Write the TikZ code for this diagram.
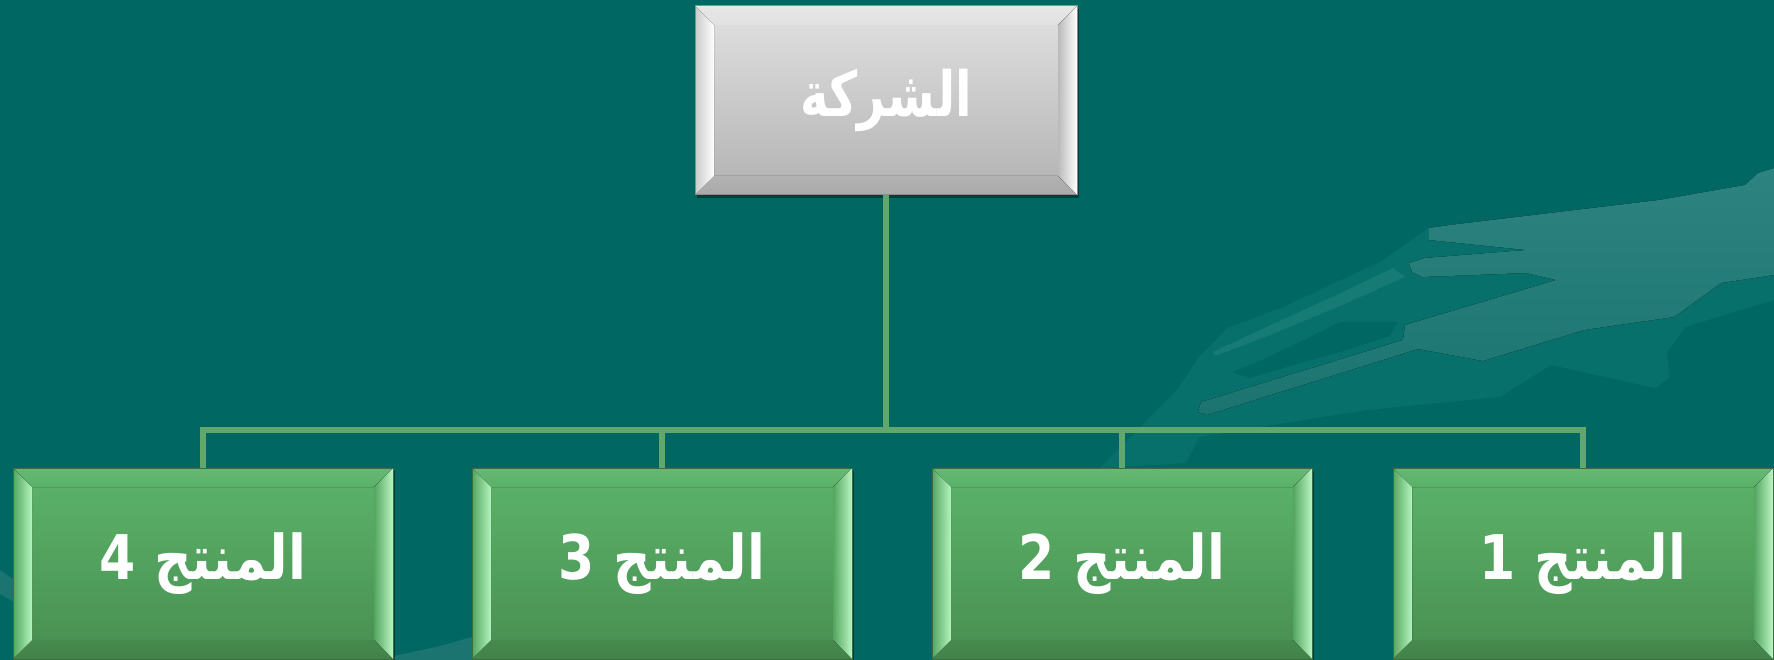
\documentclass[tikz,border=0pt]{standalone}
\usepackage{fontspec}
\TeXXeTstate=1
\newfontfamily\arabicfont[Script=Arabic]{DejaVu Sans}
\usetikzlibrary{calc,shadows}
\definecolor{bg}{RGB}{0,103,99}
\definecolor{decomid}{RGB}{8,112,107}
\definecolor{decosliver}{RGB}{22,122,117}
\definecolor{decolighttop}{RGB}{44,131,128}
\definecolor{decolightbot}{RGB}{28,116,112}
\definecolor{conn}{RGB}{98,168,110}
\definecolor{gtop}{RGB}{92,180,107}
\definecolor{gbot}{RGB}{72,142,80}
\definecolor{gborder}{RGB}{58,110,62}
\definecolor{glight}{RGB}{180,245,190}
\definecolor{gmid}{RGB}{84,165,96}
\definecolor{gdark}{RGB}{68,134,76}
\definecolor{stop}{RGB}{225,225,225}
\definecolor{sbot}{RGB}{178,178,178}
\definecolor{sborder}{RGB}{140,140,140}
\tikzset{
  bevel/.style n args={4}{path picture={
    \coordinate (bnw) at (path picture bounding box.north west);
    \coordinate (bne) at (path picture bounding box.north east);
    \coordinate (bsw) at (path picture bounding box.south west);
    \coordinate (bse) at (path picture bounding box.south east);
    \fill[#1] (bnw) -- (bne) -- ($(bne)+(-19pt,-19pt)$) -- ($(bnw)+(19pt,-19pt)$) -- cycle;
    \fill[#2] (bsw) -- (bse) -- ($(bse)+(-19pt,19pt)$) -- ($(bsw)+(19pt,19pt)$) -- cycle;
    \fill[#3] (bnw) -- ($(bnw)+(19pt,-19pt)$) -- ($(bsw)+(19pt,19pt)$) -- (bsw) -- cycle;
    \fill[#4] (bne) -- ($(bne)+(-19pt,-19pt)$) -- ($(bse)+(-19pt,19pt)$) -- (bse) -- cycle;
  }},
  boxbase/.style={rectangle, inner sep=0pt, line width=1pt, text=white,
    drop shadow={shadow xshift=2pt, shadow yshift=-3pt, opacity=0.4, fill=black}},
  greenbox/.style={boxbase, draw=gborder, minimum width=380pt, minimum height=191pt,
    font=\arabicfont\bfseries\fontsize{56}{62}\selectfont,
    top color=gtop, bottom color=gbot,
    bevel={top color=gtop!94!white, bottom color=gtop!98!black}{top color=gbot!97!black, bottom color=gbot!92!black}{left color=gmid, right color=glight}{left color=gmid, right color=glight!90!white}},
  graybox/.style={boxbase, draw=sborder, minimum width=382pt, minimum height=189pt,
    font=\arabicfont\bfseries\fontsize{52}{58}\selectfont,
    top color=stop, bottom color=sbot,
    bevel={top color=stop!80!white, bottom color=stop}{top color=sbot, bottom color=sbot!95!black}{left color=stop!90!black, right color=white}{left color=sbot!90!white, right color=white}},
  connector/.style={draw=conn, line width=6.5pt, line join=miter}
}
\begin{document}
\begin{tikzpicture}[x=1pt,y=-1pt]
\useasboundingbox (0,0) rectangle (1774,660);
\fill[bg] (0,0) rectangle (1774,660);
% background decoration
\fill[decomid] (1100,468) -- (1177,390) -- (1199,357) -- (1213,343) -- (1227,328) -- (1283,307) -- (1380,262) -- (1429,228) -- (1450,225) -- (1659,200) -- (1745,185) -- (1758,173) -- (1774,168) -- (1774,300) -- (1685,327) -- (1667,353) -- (1670,377) -- (1655,388) -- (1551,365) -- (1500,397) -- (1448,402) -- (1367,410) -- (1285,423) -- (1199,437) -- (1186,463) -- cycle;
\fill[bg] (1232,372) -- (1262,360) -- (1300,342) -- (1340,322) -- (1397,322) -- (1390,336) -- (1340,352) -- (1290,366) -- (1250,378) -- cycle;
\fill[decosliver] (1213,352) -- (1260,330) -- (1330,298) -- (1393,268) -- (1405,277) -- (1340,306) -- (1270,335) -- (1215,356) -- cycle;
\fill[top color=decolighttop, bottom color=decolightbot] (1429,228) -- (1450,225) -- (1659,200) -- (1745,185) -- (1758,173) -- (1774,168) -- (1774,275) -- (1721,283) -- (1674,317) -- (1584,330) -- (1483,361) -- (1418,349) -- (1207,415) -- (1198,412) -- (1201,402) -- (1403,340) -- (1405,325) -- (1556,280) -- (1526,273) -- (1422,277) -- (1412,272) -- (1409,263) -- (1425,258) -- (1526,250) -- (1429,240) -- cycle;
\fill[decolightbot] (394,660) -- (394,656) -- (440,646) -- (472,637) -- (472,660) -- cycle;
\fill[decolightbot] (0,570) -- (14,580) -- (14,602) -- (0,594) -- cycle;
% nodes
\node[graybox] (top) at (886,100.5) {\scalebox{0.93}[1.2]{\beginR الشركة\endR}};
\node[greenbox] (p4) at (203,563.5) {\scalebox{0.93}[1.1]{\beginR المنتج 4\endR}};
\node[greenbox] (p3) at (662,563.5) {\scalebox{0.93}[1.1]{\beginR المنتج 3\endR}};
\node[greenbox] (p2) at (1122,563.5) {\scalebox{0.93}[1.1]{\beginR المنتج 2\endR}};
\node[greenbox] (p1) at (1583,563.5) {\scalebox{0.93}[1.1]{\beginR المنتج 1\endR}};
\coordinate (bar) at (886,430);
% connectors
\draw[connector] (top.south) -- (top.south |- bar) -| (p1.north);
\draw[connector] (top.south |- bar) -| (p2.north);
\draw[connector] (top.south |- bar) -| (p3.north);
\draw[connector] (top.south |- bar) -| (p4.north);
\end{tikzpicture}
\end{document}
